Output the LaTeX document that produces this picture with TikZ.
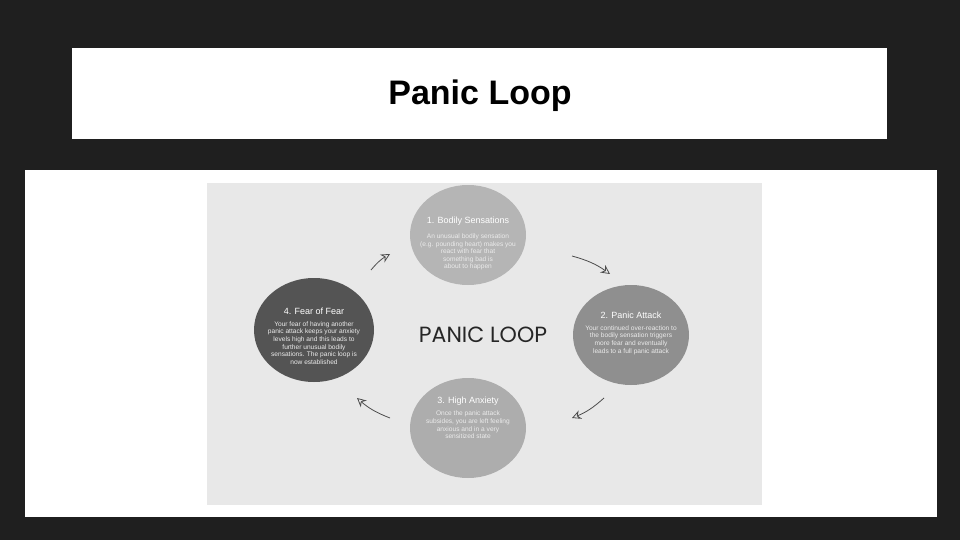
\documentclass[tikz,border=0pt]{standalone}
\usepackage{fontspec}
\setmainfont{Liberation Sans}
\newfontfamily\hand{Poppins}
\usetikzlibrary{arrows.meta}
\begin{document}
\begin{tikzpicture}[x=1pt,y=-1pt,
  ttl/.style={font=\fontsize{9}{10}\selectfont,text=white},
  body/.style={font=\fontsize{6.6}{7.6}\selectfont,text=white!92!black,align=center},
  loop/.style={draw=black!70,line width=0.8pt,-{Stealth[open,length=9pt,width=9pt]}}]
\fill[black!88] (0,0) rectangle (960,540);
\useasboundingbox (0,0) rectangle (960,540);
\fill[white] (72,48) rectangle (887,139);
\node (title) at (480,96) {\fontsize{34}{38}\selectfont\bfseries Panic Loop};
\fill[white] (25,170) rectangle (937,517);
\fill[black!9] (207,183) rectangle (762,505);
\fill[black!29] (468,235) ellipse (58 and 50);
\fill[black!44] (631,335) ellipse (58 and 50);
\fill[black!32] (468,428) ellipse (58 and 50);
\fill[black!67] (314,330) ellipse (60 and 52);
\node[ttl] (t1) at (468,221) {1. Bodily Sensations};
\node[body] (b1) at (468,252) {An unusual bodily sensation\\(e.g. pounding heart) makes you\\react with fear that\\something bad is\\about to happen};
\node[ttl] (t2) at (631,315) {2. Panic Attack};
\node[body] (b2) at (631,340) {Your continued over-reaction to\\the bodily sensation triggers\\more fear and eventually\\leads to a full panic attack};
\node[ttl] (t3) at (468,401) {3. High Anxiety};
\node[body] (b3) at (468,425) {Once the panic attack\\subsides, you are left feeling\\anxious and in a very\\sensitized state};
\node[ttl] (t4) at (314,311) {4. Fear of Fear};
\node[body] (b4) at (314,343) {Your fear of having another\\panic attack keeps your anxiety\\levels high and this leads to\\further unusual bodily\\sensations. The panic loop is\\now established};
\node (center) at (483,335) {\hand\fontsize{22}{24}\selectfont\textcolor{black!85}{PANIC LOOP}};
\coordinate (a1) at (371,270); \coordinate (a2) at (390,254);
\coordinate (c1) at (572,256); \coordinate (c2) at (610,274);
\coordinate (d1) at (604,398); \coordinate (d2) at (572,418);
\coordinate (e1) at (390,418); \coordinate (e2) at (357,398);
\draw[loop] (a1) to[bend left=10] (a2);
\draw[loop] (c1) to[bend left=10] (c2);
\draw[loop] (d1) to[bend left=10] (d2);
\draw[loop] (e1) to[bend left=10] (e2);
\end{tikzpicture}
\end{document}
